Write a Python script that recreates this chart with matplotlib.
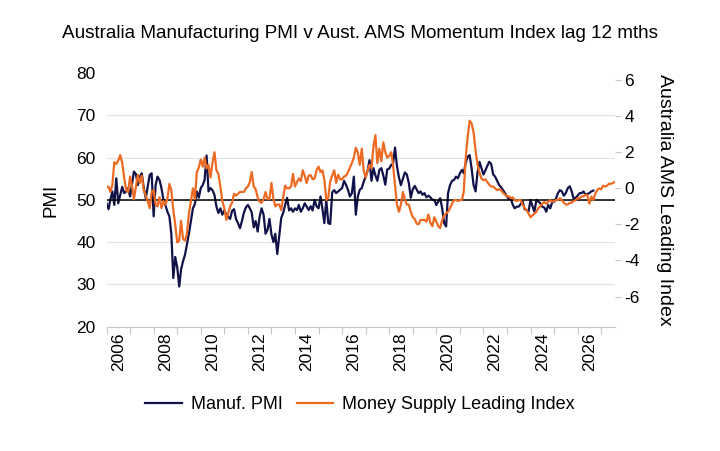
import matplotlib
matplotlib.use("Agg")
import matplotlib.pyplot as plt
import matplotlib.dates as mdates
import pandas as pd

plt.rcParams['font.family'] = ['Liberation Sans', 'DejaVu Sans']
plt.rcParams['axes.unicode_minus'] = False

# monthly values, Jan 2006 onwards
pmi = [
    49.2, 47.8, 50.0, 52.0, 48.8, 55.1, 49.2, 51.2, 53.1, 51.6, 52.0, 52.8,  # 2006
    50.8, 53.9, 56.7, 56.1, 53.5, 55.5, 56.3, 52.8, 50.4, 53.1, 55.9, 56.3,  # 2007
    46.1, 53.5, 55.5, 54.7, 52.8, 50.0, 48.8, 47.2, 46.1, 42.0, 31.5, 36.5,  # 2008
    34.0, 29.5, 33.5, 35.5, 37.0, 39.5, 42.0, 45.0, 48.0, 49.0, 52.0, 50.5,  # 2009
    52.8, 53.5, 54.7, 60.5, 52.0, 52.8, 52.3, 51.2, 48.4, 46.9, 48.0, 46.5,  # 2010
    47.5, 46.5, 46.0, 45.5, 47.4, 47.8, 45.5, 44.5, 43.3, 45.0, 47.0, 48.2,  # 2011
    48.8, 48.0, 47.0, 43.5, 45.0, 42.5, 46.0, 48.0, 46.5, 42.0, 42.9, 45.5,  # 2012
    41.8, 40.0, 42.0, 37.2, 41.5, 45.7, 46.9, 48.8, 50.5, 47.5, 48.0, 47.2,  # 2013
    48.0, 47.6, 48.8, 47.2, 48.0, 49.2, 48.4, 47.6, 48.5, 47.5, 50.0, 48.5,  # 2014
    48.0, 50.8, 48.0, 44.5, 50.0, 44.5, 44.3, 51.8, 52.3, 51.6, 52.0, 52.4,  # 2015
    52.8, 54.5, 53.6, 52.4, 50.8, 51.6, 55.5, 46.5, 50.8, 52.4, 52.8, 54.3,  # 2016
    55.5, 57.0, 59.4, 54.5, 57.5, 55.8, 54.5, 57.1, 57.5, 55.8, 53.6, 57.2,  # 2017
    57.4, 58.3, 58.5, 62.4, 58.0, 55.3, 53.5, 55.0, 56.5, 56.0, 54.0, 50.5,  # 2018
    52.5, 53.3, 52.5, 51.6, 52.0, 51.2, 51.6, 50.6, 51.0, 50.6, 50.0, 50.0,  # 2019
    48.8, 49.6, 50.4, 48.0, 44.5, 43.7, 51.6, 53.5, 54.5, 54.7, 55.5, 55.1,  # 2020
    56.3, 57.1, 56.3, 58.8, 60.2, 60.6, 57.5, 53.5, 52.0, 56.5, 59.0, 57.5,  # 2021
    56.0, 57.0, 58.0, 59.0, 58.5, 56.0, 55.5, 54.5, 53.5, 53.0, 52.3, 51.6,  # 2022
    50.8, 50.2, 50.4, 48.8, 48.0, 48.4, 48.4, 49.0, 49.6, 47.8, 47.6, 47.2,  # 2023
    50.0, 48.5, 47.2, 50.0, 49.6, 49.2, 48.4, 48.2, 47.2, 48.8, 48.0, 49.4,  # 2024
    49.6, 50.4, 51.6, 52.3, 52.0, 51.0, 51.6, 52.8, 53.2, 52.0, 50.2, 50.5,  # 2025
    51.0, 51.6, 51.6, 52.0, 51.2, 51.4, 51.6, 52.0, 52.2,                    # 2026
]

money = [
    0.09, 0.09, -0.2, 0.2, 1.45, 1.35, 1.55, 1.84, 1.4, 0.6, -0.1, -0.2,       # 2006
    0.65, 0.1, -0.6, 0.1, 0.75, 0.3, 0.7, -0.1, -0.4, -0.7, -1.1, -0.2,        # 2007
    -0.1, -0.9, -1.0, -0.5, -1.1, -0.7, -0.9, -0.6, 0.25, -0.1, -1.2, -2.0,    # 2008
    -3.0, -2.9, -1.8, -2.8, -2.9, -2.5, -1.4, -0.7, 0.0, -0.6, 0.9, 1.15,      # 2009
    1.6, 1.2, 1.7, 1.1, 1.3, 0.6, 1.4, 2.0, 1.0, 0.8, 0.1, -0.7,               # 2010
    -1.1, -1.75, -1.4, -1.0, -0.8, -0.3, -0.4, -0.3, -0.2, -0.2, -0.2, 0.0,    # 2011
    0.1, 0.35, 0.9, 0.1, -0.05, -0.5, -0.75, -0.8, -0.6, -0.2, -0.6, -0.6,     # 2012
    0.3, -0.6, -1.0, -0.9, -0.9, -1.2, -0.5, 0.15, 0.0, 0.0, 0.1, 0.8,         # 2013
    0.1, 0.35, 0.55, 0.4, 1.0, 0.7, 0.3, 0.7, 0.74, 0.5, 0.55, 1.0,            # 2014
    1.2, 0.9, 1.0, 0.5, -0.65, -0.5, 0.4, 0.7, 1.0, 0.3, 0.75, 0.5,            # 2015
    0.5, 0.65, 0.7, 0.9, 1.15, 1.4, 1.7, 2.25, 2.0, 1.3, 2.2, 1.0,             # 2016
    0.6, 1.0, 1.3, 1.1, 2.3, 2.95, 1.4, 2.2, 1.5, 2.55, 2.0, 1.7,              # 2017
    1.8, 2.0, 1.3, 0.2, -0.9, -1.3, -0.9, -0.2, -0.6, -0.9, -0.9, -1.3,        # 2018
    -1.6, -1.7, -1.95, -2.0, -1.75, -1.75, -1.75, -1.85, -1.45, -1.9, -2.1, -1.6,  # 2019
    -1.85, -2.1, -2.2, -1.75, -1.5, -1.4, -1.3, -1.1, -0.85, -0.65, -0.65, -0.7,   # 2020
    -0.65, -0.65, -0.2, 1.7, 2.85, 3.75, 3.6, 3.1, 2.1, 1.3, 0.85, 0.55,           # 2021
    0.45, 0.5, 0.35, 0.2, 0.1, 0.1, 0.0, -0.1, -0.05, -0.1, -0.25, -0.35,          # 2022
    -0.45, -0.45, -0.55, -0.5, -0.65, -0.7, -0.65, -0.65, -0.9, -1.1, -1.2, -1.4,  # 2023
    -1.6, -1.5, -1.4, -1.3, -1.1, -1.0, -0.85, -0.75, -0.85, -0.75, -0.65, -0.75,  # 2024
    -0.7, -0.65, -0.65, -0.55, -0.65, -0.8, -0.9, -0.9, -0.8, -0.8, -0.7, -0.65,   # 2025
    -0.55, -0.55, -0.45, -0.45, -0.35, -0.4, -0.85, -0.45, -0.65, -0.3, -0.1, 0.0, # 2026
    -0.05, 0.15, 0.1, 0.15, 0.25, 0.25, 0.3, 0.35,                                 # 2027
]

pmi_dates = pd.date_range('2006-01-01', periods=len(pmi), freq='MS')
money_dates = pd.date_range('2006-01-01', periods=len(money), freq='MS')

navy = '#12124a'
orange = '#ec6a22'
grey = '#c8c8c8'

fig = plt.figure(figsize=(7.2, 4.51), dpi=100)
ax = fig.add_axes([0.148, 0.2756, 0.706, 0.5624])
ax2 = ax.twinx()

ax.plot(pmi_dates, pmi, color=navy, lw=1.6, label='Manuf. PMI')
ax.axhline(50, color='black', lw=1.1)
ax2.plot(money_dates, money, color=orange, lw=1.6, label='Money Supply Leading Index')

ax.set_ylim(20, 80)
ax.set_yticks(range(20, 81, 10))
ax2.set_ylim(-7.67, 6.39)
ax2.set_yticks(range(-6, 7, 2))
ax.set_xlim(pd.Timestamp('2006-01-01'), pd.Timestamp('2027-08-01'))

for y in range(30, 80, 10):
    ax.axhline(y, color='#e2e2e2', lw=0.8, zorder=0)

for a in (ax, ax2):
    for s in a.spines.values():
        s.set_visible(False)
ax.spines['bottom'].set_visible(True)
ax.spines['bottom'].set_color(grey)

ax.tick_params(axis='y', length=0, labelsize=12.5, pad=8)
ax2.tick_params(axis='y', length=4, color=grey, labelsize=12.5, pad=3)

# year ticks, labels on even years centred between ticks
ax.xaxis.set_major_locator(mdates.YearLocator(1))
ax.xaxis.set_major_formatter(plt.NullFormatter())
ax.tick_params(axis='x', which='major', length=5, color=grey)
label_pos = [pd.Timestamp(f'{y}-07-01') for y in range(2006, 2027, 2)]
ax.set_xticks(label_pos, minor=True)
ax.set_xticklabels([str(y) for y in range(2006, 2027, 2)], minor=True, rotation=90)
ax.tick_params(axis='x', which='minor', length=0, labelsize=12.5, pad=4)

ax.set_ylabel('PMI', fontsize=13.5, labelpad=12)
ax2.set_ylabel('Australia AMS Leading Index', fontsize=14, rotation=270, labelpad=24)

fig.suptitle('Australia Manufacturing PMI v Aust. AMS Momentum Index lag 12 mths',
             fontsize=13.6, x=0.5, y=0.945)

h1, l1 = ax.get_legend_handles_labels()
h2, l2 = ax2.get_legend_handles_labels()
fig.legend(h1 + h2, l1 + l2, loc='center', bbox_to_anchor=(0.5, 0.102), ncol=2,
           frameon=False, fontsize=13, handlelength=2.0, columnspacing=0.8,
           handletextpad=0.5)

fig.savefig('out.png', dpi=100)
